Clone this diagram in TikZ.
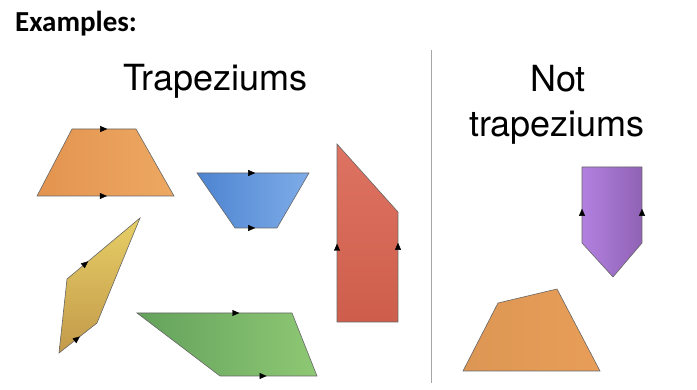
\documentclass[tikz,border=0pt]{standalone}
\usepackage{fontspec}
\newfontfamily\heros{TeX Gyre Heros}
\newfontfamily\carlito{Carlito}
\usetikzlibrary{decorations.markings,arrows.meta}

\definecolor{orgL}{HTML}{E3944F}
\definecolor{orgR}{HTML}{EDA862}
\definecolor{bluL}{HTML}{4D84D1}
\definecolor{bluR}{HTML}{7EACE8}
\definecolor{yelT}{HTML}{E6CE66}
\definecolor{yelB}{HTML}{C39A4A}
\definecolor{grnL}{HTML}{64A25C}
\definecolor{grnR}{HTML}{8EC874}
\definecolor{redT}{HTML}{DE7363}
\definecolor{redB}{HTML}{CE5E4B}
\definecolor{purL}{HTML}{B281E0}
\definecolor{purR}{HTML}{9062B5}
\definecolor{orgN}{HTML}{E89E58}

\begin{document}
\begin{tikzpicture}[x=1pt,y=-1pt,
  quad/.style={draw=black!60, line width=0.6pt},
  par/.style={postaction={decorate,decoration={markings,
    mark=at position #1 with {\arrow{Triangle[length=7pt,width=6pt]}}}}},
  big/.style={inner sep=0, font=\heros\fontsize{36}{36}\selectfont}]
\useasboundingbox (0,0) rectangle (697,390);

\node[anchor=base west, inner sep=0] (ex) at (15,32) {\carlito\bfseries\fontsize{29}{33}\selectfont Examples:};
\node[big, anchor=base west] (trap) at (123,91) {Trapeziums};
\node[big, anchor=base] (not) at (558,92) {Not};
\node[big, anchor=base] (nottrap) at (557,137) {trapeziums};

\coordinate (sepT) at (431,50);
\coordinate (sepB) at (431,383);
\draw[black!35, line width=1pt] (sepT) -- (sepB);

% orange
\coordinate (o1) at (72,129); \coordinate (o2) at (136,129);
\coordinate (o3) at (174,196); \coordinate (o4) at (37,196);
\shade[quad, left color=orgL, right color=orgR] (o1) -- (o2) -- (o3) -- (o4) -- cycle;
\path[par=0.55] (o1) -- (o2);
\path[par=0.51] (o4) -- (o3);

% blue
\coordinate (b1) at (197,173); \coordinate (b2) at (309,173);
\coordinate (b3) at (277,228); \coordinate (b4) at (235,228);
\shade[quad, left color=bluL, right color=bluR] (b1) -- (b2) -- (b3) -- (b4) -- cycle;
\path[par=0.52] (b1) -- (b2);
\path[par=0.48] (b4) -- (b3);

% yellow
\coordinate (y1) at (140,218); \coordinate (y2) at (67,279);
\coordinate (y3) at (59,353); \coordinate (y4) at (97,323);
\shade[quad, top color=yelT, bottom color=yelB] (y1) -- (y2) -- (y3) -- (y4) -- cycle;
\path[par=0.29] (y2) -- (y1);
\path[par=0.55] (y3) -- (y4);

% green
\coordinate (g1) at (137,313); \coordinate (g2) at (292,313);
\coordinate (g3) at (317,376); \coordinate (g4) at (220,376);
\shade[quad, left color=grnL, right color=grnR] (g1) -- (g2) -- (g3) -- (g4) -- cycle;
\path[par=0.66] (g1) -- (g2);
\path[par=0.48] (g4) -- (g3);

% red
\coordinate (r1) at (337,144); \coordinate (r2) at (398,212);
\coordinate (r3) at (398,322); \coordinate (r4) at (337,322);
\shade[quad, top color=redT, bottom color=redB] (r1) -- (r2) -- (r3) -- (r4) -- cycle;
\path[par=0.44] (r4) -- (r1);
\path[par=0.72] (r3) -- (r2);

% purple
\coordinate (p1) at (582,167); \coordinate (p2) at (642,167);
\coordinate (p3) at (642,243); \coordinate (p4) at (613,277);
\coordinate (p5) at (582,243);
\shade[quad, left color=purL, right color=purR] (p1) -- (p2) -- (p3) -- (p4) -- (p5) -- cycle;
\path[par=0.45] (p5) -- (p1);
\path[par=0.45] (p3) -- (p2);

% orange, not a trapezium
\coordinate (n1) at (498,303); \coordinate (n2) at (557,289);
\coordinate (n3) at (600,371); \coordinate (n4) at (463,371);
\shade[quad, left color=orgN!95!black, right color=orgN] (n1) -- (n2) -- (n3) -- (n4) -- cycle;

\end{tikzpicture}
\end{document}
